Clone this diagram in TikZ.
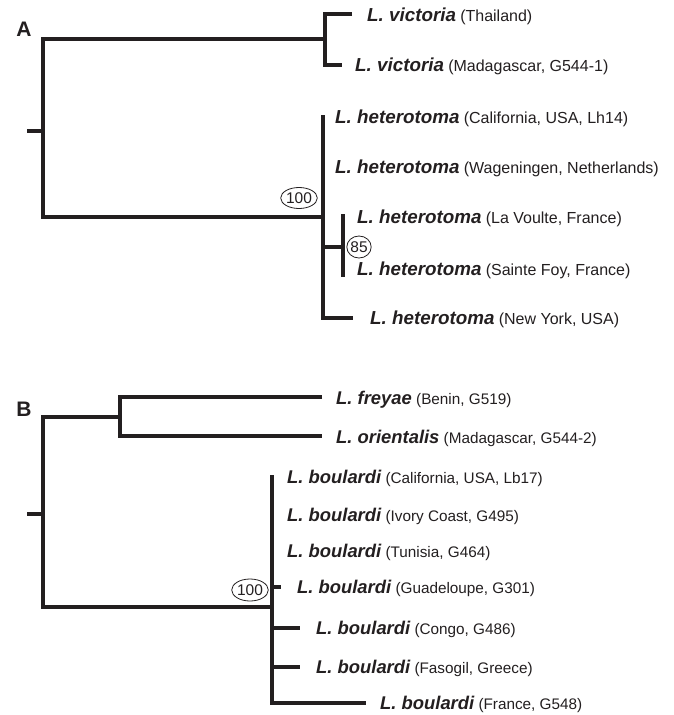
\documentclass[tikz,border=0pt]{standalone}
\usepackage{fontspec}
\setmainfont{Liberation Sans}
\usetikzlibrary{shapes.geometric}
\newcommand{\spn}[1]{{\bfseries\itshape\fontsize{18.8}{22}\selectfont #1}\hspace{1.5pt}}
\newcommand{\lcn}[1]{{\fontsize{16}{19}\selectfont #1}}
\newcommand{\spb}[1]{{\bfseries\itshape\fontsize{18.4}{22}\selectfont #1}\hspace{1.5pt}}
\newcommand{\lcb}[1]{{\fontsize{15.3}{18}\selectfont #1}}
\definecolor{ink}{HTML}{231F20}
\begin{document}
\begin{tikzpicture}[x=1pt,y=-1pt,
  branch/.style={line width=3.6pt, line join=miter, color=ink},
  lab/.style={anchor=west, inner sep=0pt, text=ink},
  panel/.style={font=\bfseries\fontsize{21}{24}\selectfont, inner sep=0pt, text=ink},
  supp/.style={ellipse, draw=ink, text=ink, line width=0.8pt, inner sep=0pt, font=\fontsize{15.5}{17}\selectfont}]
\useasboundingbox (0,0) rectangle (674,715);
\fill[white] (0,0) rectangle (674,715);

% ---------- Panel A ----------
\node[panel] (A) at (24,29) {A};
\coordinate (aStub) at (27,131);
\coordinate (aRoot) at (43,131);
\coordinate (aTop) at (43,39);
\coordinate (aBot) at (43,217);
\coordinate (vicJ) at (325,39);
\coordinate (hetJ) at (323,217);
\coordinate (v1) at (325,14);
\coordinate (v2) at (325,65);
\coordinate (v1t) at (352,14);
\coordinate (v2t) at (342,65);
\coordinate (hTop) at (323,115);
\coordinate (hBot) at (323,318);
\coordinate (hNYt) at (353,318);
\coordinate (h85a) at (323,247);
\coordinate (h85b) at (343,247);
\coordinate (h85t) at (343,214);
\coordinate (h85d) at (343,277);

\draw[branch] (aStub) -- (aRoot);
\draw[branch] (vicJ) -- (aTop) -- (aBot) -- (hetJ);
\draw[branch] (v1t) -- (v1) -- (v2) -- (v2t);
\draw[branch] (hTop) -- (hBot) -- (hNYt);
\draw[branch] (h85a) -- (h85b);
\draw[branch] (h85t) -- (h85d);

\node[lab] (tv1) at (367,16) {\spn{L. victoria} \lcn{(Thailand)}};
\node[lab] (tv2) at (355,66) {\spn{L. victoria} \lcn{(Madagascar, G544-1)}};
\node[lab] (th1) at (335,118) {\spn{L. heterotoma} \lcn{(California, USA, Lh14)}};
\node[lab] (th2) at (335,168) {\spn{L. heterotoma} \lcn{(Wageningen, Netherlands)}};
\node[lab] (th3) at (357,218) {\spn{L. heterotoma} \lcn{(La Voulte, France)}};
\node[lab] (th4) at (357,270) {\spn{L. heterotoma} \lcn{(Sainte Foy, France)}};
\node[lab] (th5) at (370,319) {\spn{L. heterotoma} \lcn{(New York, USA)}};

\node[supp, minimum width=34pt, minimum height=21pt] (sA100) at (299,198) {100};
\node[supp, minimum width=19pt, minimum height=22pt] (sA85) at (359,247) {85};

% ---------- Panel B ----------
\node[panel] (B) at (24,409) {B};
\coordinate (bStub) at (27,514);
\coordinate (bRoot) at (43,514);
\coordinate (bTop) at (43,417);
\coordinate (bBot) at (43,607);
\coordinate (fJ) at (120,417);
\coordinate (f1) at (120,397);
\coordinate (f2) at (120,436);
\coordinate (f1t) at (322,397);
\coordinate (f2t) at (322,436);
\coordinate (boJ) at (272,607);
\coordinate (boTop) at (272,475);
\coordinate (boBot) at (272,703);
\coordinate (boFt) at (366,703);
\coordinate (gu) at (272,587);
\coordinate (gut) at (281,587);
\coordinate (co) at (272,628);
\coordinate (cot) at (300,628);
\coordinate (fa) at (272,667);
\coordinate (fat) at (300,667);

\draw[branch] (bStub) -- (bRoot);
\draw[branch] (fJ) -- (bTop) -- (bBot) -- (boJ);
\draw[branch] (f1t) -- (f1) -- (f2) -- (f2t);
\draw[branch] (boTop) -- (boBot) -- (boFt);
\draw[branch] (gu) -- (gut);
\draw[branch] (co) -- (cot);
\draw[branch] (fa) -- (fat);

\node[lab] (tf1) at (336,400) {\spb{L. freyae} \lcb{(Benin, G519)}};
\node[lab] (tf2) at (336,438) {\spb{L. orientalis} \lcb{(Madagascar, G544-2)}};
\node[lab] (tb1) at (287,478) {\spb{L. boulardi} \lcb{(California, USA, Lb17)}};
\node[lab] (tb2) at (287,516) {\spb{L. boulardi} \lcb{(Ivory Coast, G495)}};
\node[lab] (tb3) at (287,552) {\spb{L. boulardi} \lcb{(Tunisia, G464)}};
\node[lab] (tb4) at (297,588) {\spb{L. boulardi} \lcb{(Guadeloupe, G301)}};
\node[lab] (tb5) at (316,629) {\spb{L. boulardi} \lcb{(Congo, G486)}};
\node[lab] (tb6) at (316,668) {\spb{L. boulardi} \lcb{(Fasogil, Greece)}};
\node[lab] (tb7) at (380,704) {\spb{L. boulardi} \lcb{(France, G548)}};

\node[supp, minimum width=35pt, minimum height=22pt] (sB100) at (250,590) {100};
\end{tikzpicture}
\end{document}
